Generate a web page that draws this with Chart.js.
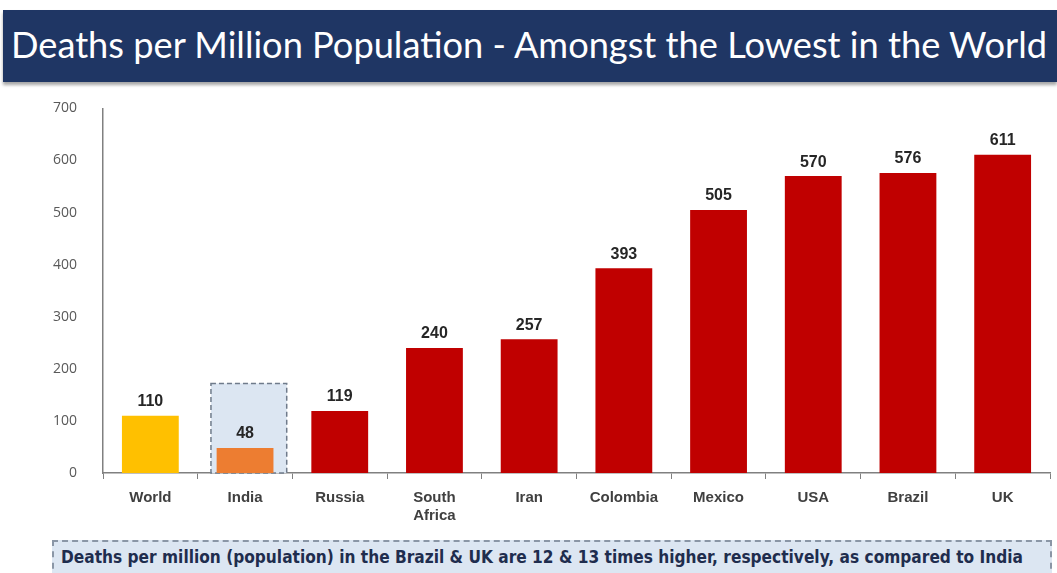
<!DOCTYPE html>
<html>
<head>
<meta charset="utf-8">
<script src="https://cdn.jsdelivr.net/npm/chart.js@4"></script>
<style>
  html, body { margin: 0; padding: 0; background: #fff; }
  body { width: 1057px; height: 573px; position: relative; overflow: hidden; }
  #title {
    position: absolute; left: 3px; top: 10px; width: 1054px; height: 72px;
    background: #1f3664; box-shadow: 0 3px 3px rgba(0,0,0,0.35);
  }
  #title span {
    position: absolute; left: 8px; top: 14px; color: #fff; white-space: nowrap;
    font-family: Lato, "Open Sans", sans-serif; font-size: 36px; line-height: 40px;
    transform-origin: 0 0;
  }
  #wrap { position: absolute; left: 0; top: 82px; width: 1057px; height: 453px; }
  #note {
    position: absolute; left: 52px; top: 540px; width: 1000px; height: 40px;
    background: #dce6f2; border: 2px dashed #8a96a6; box-sizing: border-box;
  }
  #note span {
    position: absolute; left: 7px; top: 5px; color: #1f2d4e; white-space: nowrap;
    font-family: "Liberation Sans Narrow", "DejaVu Sans Condensed", sans-serif;
    font-weight: bold; font-size: 17px; line-height: 20px; transform-origin: 0 0;
  }
</style>
</head>
<body>
<div id="title"><span>Deaths per Million Population - Amongst the Lowest in the World</span></div>
<div id="wrap"><canvas id="c"></canvas></div>
<div id="note"><span>Deaths per million (population) in the Brazil &amp; UK are 12 &amp; 13 times higher, respectively, as compared to India</span></div>
<script>
// chart data
var countries = ["World", "India", "Russia", ["South", "Africa"], "Iran", "Colombia", "Mexico", "USA", "Brazil", "UK"];
var deathsPerMillion = [110, 48, 119, 240, 257, 393, 505, 570, 576, 611];
var barColors = ["#ffc000", "#ed7d31", "#c00000", "#c00000", "#c00000", "#c00000", "#c00000", "#c00000", "#c00000", "#c00000"];
var highlightIndex = 1;   // India
var highlightTop = 172;   // top of the dashed box, in axis units

// squeeze a line of text to a given width
function fitText(el, w){
  var s = w / el.getBoundingClientRect().width;
  el.style.transform = "scaleX(" + s + ")";
}
fitText(document.querySelector("#title span"), 1036);
fitText(document.querySelector("#note span"), 962);

var highlightBox = {
  id: "highlightBox",
  beforeDatasetsDraw: function(chart){
    var ctx = chart.ctx, x = chart.scales.x, y = chart.scales.y;
    var cx = x.getPixelForValue(highlightIndex);
    var step = x.getPixelForValue(1) - x.getPixelForValue(0);
    var left = cx - step * 0.36, right = cx + step * 0.44;
    var top = y.getPixelForValue(highlightTop), bottom = y.getPixelForValue(0);
    ctx.save();
    ctx.fillStyle = "#dce6f2";
    ctx.fillRect(left, top, right - left, bottom - top);
    ctx.setLineDash([5, 3]);
    ctx.strokeStyle = "#6f7b8b";
    ctx.lineWidth = 1.5;
    ctx.strokeRect(left, top, right - left, bottom - top);
    ctx.restore();
  }
};

var valueLabels = {
  id: "valueLabels",
  afterDatasetsDraw: function(chart){
    var ctx = chart.ctx;
    var meta = chart.getDatasetMeta(0);
    ctx.save();
    ctx.font = "bold 16px 'Liberation Sans', Arial, sans-serif";
    ctx.fillStyle = "#262626";
    ctx.textAlign = "center";
    ctx.textBaseline = "bottom";
    meta.data.forEach(function(bar, i){
      ctx.fillText(deathsPerMillion[i], bar.x, bar.y - 6);
    });
    ctx.restore();
  }
};

new Chart(document.getElementById("c"), {
  type: "bar",
  data: {
    labels: countries,
    datasets: [{
      data: deathsPerMillion,
      backgroundColor: barColors,
      categoryPercentage: 1,
      barPercentage: 0.6
    }]
  },
  options: {
    responsive: true,
    maintainAspectRatio: false,
    animation: false,
    layout: { padding: { top: 9, right: 7, left: 0, bottom: 0 } },
    plugins: { legend: { display: false }, tooltip: { enabled: false } },
    scales: {
      x: {
        grid: { offset: true, drawOnChartArea: false, tickLength: 6, color: "#808080" },
        border: { color: "#808080", width: 1.5 },
        ticks: {
          color: "#404040", padding: 10,
          font: { family: "'Liberation Sans', Arial, sans-serif", size: 15, weight: "bold" }
        },
        afterFit: function(s){ s.height = 62; }
      },
      y: {
        min: 0, max: 700,
        grid: { display: false },
        border: { color: "#808080", width: 1.5 },
        ticks: {
          stepSize: 100, color: "#595959", padding: 18,
          font: { family: "'Open Sans', sans-serif", size: 14 }
        },
        afterFit: function(s){ s.width = 103; }
      }
    }
  },
  plugins: [highlightBox, valueLabels]
});
</script>
</body>
</html>
